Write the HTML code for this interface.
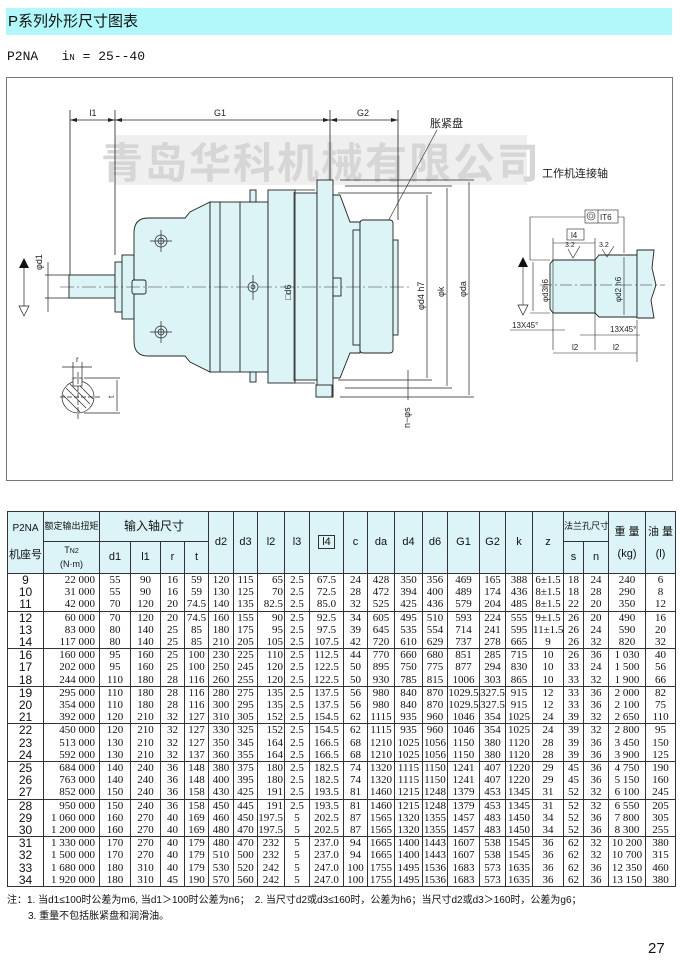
<!DOCTYPE html>
<html><head><meta charset="utf-8">
<style>
*{margin:0;padding:0;box-sizing:border-box}
body{width:680px;height:973px;background:#fff;position:relative;overflow:hidden;font-family:"Liberation Sans","Noto Sans CJK SC",sans-serif;color:#111}
.abs{position:absolute}
#title{left:6px;top:8px;width:666px;height:27px;background:#b2f8fa;font-size:15px;line-height:27px;padding-left:2px}
#sub{left:7px;top:49px;font-family:"Liberation Mono",monospace;font-size:13px;white-space:pre}
#frame{left:6px;top:77px;width:667px;height:404px;border:1px solid #777}
table{position:absolute;left:7px;top:511px;border-collapse:collapse;table-layout:fixed;width:668px}
td{border:1px solid #333;text-align:center;font-family:"Liberation Serif","Noto Serif CJK SC",serif;font-size:11px;line-height:12.2px;padding:0;white-space:nowrap;overflow:hidden}
thead td{background:#dcf4f8;font-family:"Liberation Sans","Noto Sans CJK SC",sans-serif;font-size:11px}
tbody tr{height:37px}
tbody tr.l{height:48px}
td.n{font-family:"Liberation Sans",sans-serif;font-size:12px;line-height:12.2px}
td.r{text-align:right;padding-right:4px}
.note{font-size:10px;left:7px;white-space:nowrap}
</style></head><body>
<div id="title" class="abs">P系列外形尺寸图表</div>
<div id="sub" class="abs">P2NA   i<span style="font-size:9px">N</span> = 25--40</div>
<div id="frame" class="abs"></div>

<svg class="abs" style="left:0;top:0" width="680" height="490" viewBox="0 0 680 490" font-family="Liberation Sans, Noto Sans CJK SC, sans-serif">
<rect x="115" y="135" width="412" height="50" fill="#efefef"/>
<text x="321" y="178" text-anchor="middle" font-size="42" font-weight="bold" fill="#d6d6d6" font-family="Noto Sans CJK SC, sans-serif" letter-spacing="2">青岛华科机械有限公司</text>
<g stroke="#222" stroke-width="0.8" fill="none">
<line x1="70" y1="110" x2="70" y2="275"/>
<line x1="115" y1="110" x2="115" y2="255"/>
<line x1="330" y1="110" x2="330" y2="190"/>
<line x1="398" y1="110" x2="398" y2="220"/>
<line x1="70" y1="120" x2="398" y2="120"/>
</g>
<g fill="#222">
<polygon points="70,120 77,118 77,122"/><polygon points="115,120 108,118 108,122"/>
<polygon points="115,120 122,118 122,122"/><polygon points="330,120 323,118 323,122"/>
<polygon points="330,120 337,118 337,122"/><polygon points="398,120 391,118 391,122"/>
</g>
<g font-size="9" fill="#222" text-anchor="middle">
<text x="93" y="116">l1</text><text x="220" y="116">G1</text><text x="363" y="116">G2</text>
</g>
<text x="430" y="127" font-size="11" fill="#222">胀紧盘</text>
<line x1="437" y1="130" x2="378" y2="240" stroke="#222" stroke-width="0.6"/>
<text x="542" y="177" font-size="11" fill="#222">工作机连接轴</text>

<g stroke="#222" stroke-width="0.9" fill="#dcf4f6">
<rect x="69" y="275" width="46" height="23"/>
<rect x="115" y="262" width="8" height="50"/>
<rect x="122" y="255" width="12" height="64"/>
<path d="M134,233 Q134,218 148,218 L185,218 L190,212 L210,202 L210,372 L190,362 L185,356 L148,356 Q134,356 134,341 Z"/>
<rect x="210" y="202" width="58" height="170"/>
<line x1="220" y1="202" x2="220" y2="372"/><line x1="240" y1="202" x2="240" y2="372"/>
<rect x="268" y="190" width="27" height="193"/>
<rect x="295" y="193" width="22" height="187"/>
<rect x="317" y="180" width="16" height="217"/>
<path d="M333,195 L340,195 L350,222 L360,222 L360,353 L350,353 L340,378 L333,378 Z"/>
<rect x="353" y="230" width="7" height="115"/>
<rect x="360" y="220" width="33" height="133" rx="3"/>
<rect x="393" y="240" width="5" height="95"/>
<rect x="250" y="190" width="6" height="12"/><rect x="250" y="372" width="6" height="10"/>
<rect x="316" y="385" width="16" height="12"/>
<rect x="333" y="278" width="8" height="18"/>
<rect x="132" y="280" width="14" height="14" rx="2"/>
</g>
<g stroke="#222" stroke-width="0.7" fill="none">
<circle cx="161" cy="241" r="6"/><circle cx="161" cy="241" r="3"/>
<circle cx="161" cy="332" r="6"/><circle cx="161" cy="332" r="3"/>
<circle cx="253" cy="287" r="5"/><circle cx="253" cy="287" r="2"/>
<line x1="150" y1="241" x2="172" y2="241"/><line x1="161" y1="230" x2="161" y2="252"/>
<line x1="150" y1="332" x2="172" y2="332"/><line x1="161" y1="321" x2="161" y2="343"/>
<line x1="253" y1="275" x2="253" y2="300"/>
</g>
<line x1="60" y1="287" x2="410" y2="287" stroke="#333" stroke-width="0.5" stroke-dasharray="14,3,2,3"/>
<g stroke="#222" stroke-width="0.7">
<line x1="45" y1="275" x2="69" y2="275"/><line x1="45" y1="298" x2="69" y2="298"/>
<line x1="48" y1="262" x2="48" y2="312"/>
<line x1="24" y1="262" x2="24" y2="312"/>
</g>
<polygon points="24,258 19,268 29,268" fill="#111"/>
<polygon points="24,316 19,306 29,306" fill="#fff" stroke="#222" stroke-width="0.7"/>
<text transform="translate(42,270) rotate(-90)" font-size="9" fill="#222">φd1</text>
<g stroke="#222" stroke-width="0.7">
<line x1="295" y1="190" x2="315" y2="190"/><line x1="295" y1="383" x2="315" y2="383"/>
<line x1="294" y1="192" x2="294" y2="381"/>
<line x1="338" y1="193" x2="432" y2="193"/><line x1="338" y1="380" x2="432" y2="380"/>
<line x1="427" y1="195" x2="427" y2="378"/>
<line x1="345" y1="186" x2="452" y2="186"/><line x1="345" y1="388" x2="452" y2="388"/>
<line x1="447" y1="188" x2="447" y2="386"/>
<line x1="340" y1="180" x2="474" y2="180"/><line x1="340" y1="397" x2="474" y2="397"/>
<line x1="469" y1="182" x2="469" y2="395"/>
<line x1="408" y1="370" x2="408" y2="400"/>
</g>
<text transform="translate(291,300) rotate(-90)" font-size="9" fill="#222">□d6</text>
<text transform="translate(424,310) rotate(-90)" font-size="9" fill="#222">φd4 h7</text>
<text transform="translate(444,297) rotate(-90)" font-size="9" fill="#222">φk</text>
<text transform="translate(466,297) rotate(-90)" font-size="9" fill="#222">φda</text>
<text transform="translate(410,428) rotate(-90)" font-size="9" fill="#222">n−φs</text>
<g stroke="#222" stroke-width="0.7" fill="none">
<circle cx="78" cy="397" r="16" fill="#fff"/>
<path d="M66,388 L86,408 M63,395 L80,412 M70,384 L90,404 M76,382 L93,399" />
<rect x="73" y="378" width="9" height="8" fill="#fff"/>
<line x1="60" y1="397" x2="100" y2="397" stroke-dasharray="5,2"/>
<line x1="78" y1="372" x2="78" y2="420" stroke-dasharray="5,2"/>
<line x1="73" y1="362" x2="73" y2="380"/><line x1="82" y1="362" x2="82" y2="380"/>
<line x1="62" y1="367" x2="92" y2="367"/>
<line x1="84" y1="378" x2="120" y2="378"/><line x1="84" y1="413" x2="120" y2="413"/>
<line x1="117" y1="380" x2="117" y2="411"/>
</g>
<text x="76" y="362" font-size="8" fill="#222">r</text>
<text transform="translate(114,398) rotate(-90)" font-size="8" fill="#222">t</text>

<g stroke="#222" stroke-width="0.9" fill="#dcf4f6">
<path d="M553,260 L595,260 L595,313 L553,313 L550,309 L550,264 Z"/>
<path d="M595,260 L599,255 L637,255 L637,317 L599,317 L595,313 Z"/>
<path d="M637,250 L654,250 L652,268 L656,285 L651,300 L654,318 L637,318 Z"/>
</g>
<g stroke="#222" stroke-width="0.6" fill="none">
<line x1="540" y1="285" x2="665" y2="285" stroke-dasharray="12,3,2,3"/>
<line x1="530" y1="260" x2="550" y2="260"/><line x1="530" y1="313" x2="550" y2="313"/>
<line x1="533" y1="262" x2="533" y2="311"/>
<line x1="624" y1="257" x2="624" y2="315"/>
<polyline points="530,260 530,217 585,217"/>
<rect x="585" y="210" width="33" height="13" fill="#fff"/>
<line x1="598" y1="210" x2="598" y2="223"/>
<circle cx="591" cy="216" r="4"/><circle cx="591" cy="216" r="2"/>
<polyline points="618,217 624,217 624,253"/>
<rect x="567" y="229" width="17" height="11" fill="#fff"/>
<line x1="553" y1="238" x2="553" y2="350"/><line x1="595" y1="238" x2="595" y2="350"/>
<line x1="637" y1="320" x2="637" y2="362"/>
<line x1="553" y1="243" x2="595" y2="243"/>
<polyline points="568,249 573,258 580,246"/>
<polyline points="602,249 607,257 614,246"/>
<line x1="553" y1="353" x2="637" y2="353"/>
<line x1="510" y1="330" x2="565" y2="330"/>
<line x1="580" y1="335" x2="640" y2="335"/>
</g>
<polygon points="523,257 518,267 528,267" fill="#111"/>
<polygon points="523,315 518,305 528,305" fill="#fff" stroke="#222" stroke-width="0.7"/>
<line x1="523" y1="267" x2="523" y2="305" stroke="#222" stroke-width="0.6"/>
<g font-size="8" fill="#222">
<text x="600" y="220">IT6</text>
<text x="571" y="238">l4</text>
<text x="565" y="247" font-size="7">3.2</text>
<text x="599" y="247" font-size="7">3.2</text>
<text transform="translate(548,302) rotate(-90)">φd3h6</text>
<text transform="translate(621,302) rotate(-90)">φd2 h6</text>
<text x="512" y="328">13X45°</text>
<text x="610" y="332">13X45°</text>
<text x="572" y="350">l2</text><text x="613" y="350">l2</text>
</g>
</svg>

<table>
<colgroup>
<col style="width:36px"><col style="width:56px"><col style="width:31px"><col style="width:30px"><col style="width:24px"><col style="width:24px"><col style="width:25px"><col style="width:24px"><col style="width:27px"><col style="width:25px"><col style="width:34px"><col style="width:24px"><col style="width:27px"><col style="width:28px"><col style="width:25px"><col style="width:32px"><col style="width:26px"><col style="width:27px"><col style="width:31px"><col style="width:20px"><col style="width:25px"><col style="width:37px"><col style="width:30px">
</colgroup>
<thead>
<tr style="height:30px"><td rowspan="2" style="font-size:10px;line-height:26px">P2NA<br><span style="font-size:11px">机座号</span></td><td style="font-size:9px">额定输出扭矩</td><td colspan="4" style="font-size:12px">输入轴尺寸</td><td rowspan="2">d2</td><td rowspan="2">d3</td><td rowspan="2">l2</td><td rowspan="2">l3</td><td rowspan="2"><span style="border:1px solid #333;padding:0 3px">l4</span></td><td rowspan="2">c</td><td rowspan="2">da</td><td rowspan="2">d4</td><td rowspan="2">d6</td><td rowspan="2">G1</td><td rowspan="2">G2</td><td rowspan="2">k</td><td rowspan="2">z</td><td colspan="2" style="font-size:9px">法兰孔尺寸</td><td rowspan="2" style="line-height:22px">重 量<br>(kg)</td><td rowspan="2" style="line-height:22px">油 量<br>(l)</td></tr>
<tr style="height:32px"><td style="font-size:9px;line-height:13px">T<span style="font-size:7px">N2</span><br>(N·m)</td><td>d1</td><td>l1</td><td>r</td><td>t</td><td>s</td><td>n</td></tr>
</thead>
<tbody>
<tr><td class="n">9<br>10<br>11</td><td class="r">22 000<br>31 000<br>42 000</td><td>55<br>55<br>70</td><td>90<br>90<br>120</td><td>16<br>16<br>20</td><td>59<br>59<br>74.5</td><td>120<br>130<br>140</td><td>115<br>125<br>135</td><td class="r" style="padding-right:1px">65<br>70<br>82.5</td><td>2.5<br>2.5<br>2.5</td><td>67.5<br>72.5<br>85.0</td><td>24<br>28<br>32</td><td>428<br>472<br>525</td><td>350<br>394<br>425</td><td>356<br>400<br>436</td><td>469<br>489<br>579</td><td>165<br>174<br>204</td><td>388<br>436<br>485</td><td>6±1.5<br>8±1.5<br>8±1.5</td><td>18<br>18<br>22</td><td>24<br>28<br>20</td><td>240<br>290<br>350</td><td>6<br>8<br>12</td></tr>
<tr><td class="n">12<br>13<br>14</td><td class="r">60 000<br>83 000<br>117 000</td><td>70<br>80<br>80</td><td>120<br>140<br>140</td><td>20<br>25<br>25</td><td>74.5<br>85<br>85</td><td>160<br>180<br>210</td><td>155<br>175<br>205</td><td class="r" style="padding-right:1px">90<br>95<br>105</td><td>2.5<br>2.5<br>2.5</td><td>92.5<br>97.5<br>107.5</td><td>34<br>39<br>42</td><td>605<br>645<br>720</td><td>495<br>535<br>610</td><td>510<br>554<br>629</td><td>593<br>714<br>737</td><td>224<br>241<br>278</td><td>555<br>595<br>665</td><td>9±1.5<br>11±1.5<br>9</td><td>26<br>26<br>26</td><td>20<br>24<br>32</td><td>490<br>590<br>820</td><td>16<br>20<br>32</td></tr>
<tr><td class="n">16<br>17<br>18</td><td class="r">160 000<br>202 000<br>244 000</td><td>95<br>95<br>110</td><td>160<br>160<br>180</td><td>25<br>25<br>28</td><td>100<br>100<br>116</td><td>230<br>250<br>260</td><td>225<br>245<br>255</td><td class="r" style="padding-right:1px">110<br>120<br>120</td><td>2.5<br>2.5<br>2.5</td><td>112.5<br>122.5<br>122.5</td><td>44<br>50<br>50</td><td>770<br>895<br>930</td><td>660<br>750<br>785</td><td>680<br>775<br>815</td><td>851<br>877<br>1006</td><td>285<br>294<br>303</td><td>715<br>830<br>865</td><td>10<br>10<br>10</td><td>26<br>33<br>33</td><td>36<br>24<br>32</td><td>1 030<br>1 500<br>1 900</td><td>40<br>56<br>66</td></tr>
<tr><td class="n">19<br>20<br>21</td><td class="r">295 000<br>354 000<br>392 000</td><td>110<br>110<br>120</td><td>180<br>180<br>210</td><td>28<br>28<br>32</td><td>116<br>116<br>127</td><td>280<br>300<br>310</td><td>275<br>295<br>305</td><td class="r" style="padding-right:1px">135<br>135<br>152</td><td>2.5<br>2.5<br>2.5</td><td>137.5<br>137.5<br>154.5</td><td>56<br>56<br>62</td><td>980<br>980<br>1115</td><td>840<br>840<br>935</td><td>870<br>870<br>960</td><td>1029.5<br>1029.5<br>1046</td><td>327.5<br>327.5<br>354</td><td>915<br>915<br>1025</td><td>12<br>12<br>24</td><td>33<br>33<br>39</td><td>36<br>36<br>32</td><td>2 000<br>2 100<br>2 650</td><td>82<br>75<br>110</td></tr>
<tr><td class="n">22<br>23<br>24</td><td class="r">450 000<br>513 000<br>592 000</td><td>120<br>130<br>130</td><td>210<br>210<br>210</td><td>32<br>32<br>32</td><td>127<br>127<br>137</td><td>330<br>350<br>360</td><td>325<br>345<br>355</td><td class="r" style="padding-right:1px">152<br>164<br>164</td><td>2.5<br>2.5<br>2.5</td><td>154.5<br>166.5<br>166.5</td><td>62<br>68<br>68</td><td>1115<br>1210<br>1210</td><td>935<br>1025<br>1025</td><td>960<br>1056<br>1056</td><td>1046<br>1150<br>1150</td><td>354<br>380<br>380</td><td>1025<br>1120<br>1120</td><td>24<br>28<br>28</td><td>39<br>39<br>39</td><td>32<br>36<br>36</td><td>2 800<br>3 450<br>3 900</td><td>95<br>150<br>125</td></tr>
<tr><td class="n">25<br>26<br>27</td><td class="r">684 000<br>763 000<br>852 000</td><td>140<br>140<br>150</td><td>240<br>240<br>240</td><td>36<br>36<br>36</td><td>148<br>148<br>158</td><td>380<br>400<br>430</td><td>375<br>395<br>425</td><td class="r" style="padding-right:1px">180<br>180<br>191</td><td>2.5<br>2.5<br>2.5</td><td>182.5<br>182.5<br>193.5</td><td>74<br>74<br>81</td><td>1320<br>1320<br>1460</td><td>1115<br>1115<br>1215</td><td>1150<br>1150<br>1248</td><td>1241<br>1241<br>1379</td><td>407<br>407<br>453</td><td>1220<br>1220<br>1345</td><td>29<br>29<br>31</td><td>45<br>45<br>52</td><td>36<br>36<br>32</td><td>4 750<br>5 150<br>6 100</td><td>190<br>160<br>245</td></tr>
<tr><td class="n">28<br>29<br>30</td><td class="r">950 000<br>1 060 000<br>1 200 000</td><td>150<br>160<br>160</td><td>240<br>270<br>270</td><td>36<br>40<br>40</td><td>158<br>169<br>169</td><td>450<br>460<br>480</td><td>445<br>450<br>470</td><td class="r" style="padding-right:1px">191<br>197.5<br>197.5</td><td>2.5<br>5<br>5</td><td>193.5<br>202.5<br>202.5</td><td>81<br>87<br>87</td><td>1460<br>1565<br>1565</td><td>1215<br>1320<br>1320</td><td>1248<br>1355<br>1355</td><td>1379<br>1457<br>1457</td><td>453<br>483<br>483</td><td>1345<br>1450<br>1450</td><td>31<br>34<br>34</td><td>52<br>52<br>52</td><td>32<br>36<br>36</td><td>6 550<br>7 800<br>8 300</td><td>205<br>305<br>255</td></tr>
<tr class="l"><td class="n">31<br>32<br>33<br>34</td><td class="r">1 330 000<br>1 500 000<br>1 680 000<br>1 920 000</td><td>170<br>170<br>180<br>180</td><td>270<br>270<br>310<br>310</td><td>40<br>40<br>40<br>45</td><td>179<br>179<br>179<br>190</td><td>480<br>510<br>530<br>570</td><td>470<br>500<br>520<br>560</td><td>232<br>232<br>242<br>242</td><td>5<br>5<br>5<br>5</td><td>237.0<br>237.0<br>247.0<br>247.0</td><td>94<br>94<br>100<br>100</td><td>1665<br>1665<br>1755<br>1755</td><td>1400<br>1400<br>1495<br>1495</td><td>1443<br>1443<br>1536<br>1536</td><td>1607<br>1607<br>1683<br>1683</td><td>538<br>538<br>573<br>573</td><td>1545<br>1545<br>1635<br>1635</td><td>36<br>36<br>36<br>36</td><td>62<br>62<br>62<br>62</td><td>32<br>32<br>36<br>36</td><td>10 200<br>10 700<br>12 350<br>13 150</td><td>380<br>315<br>460<br>380</td></tr>
</tbody>
</table>

<div class="abs note" style="top:891px">注：1. 当d1≤100时公差为m6, 当d1＞100时公差为n6；　2. 当尺寸d2或d3≤160时，公差为h6；当尺寸d2或d3＞160时，公差为g6；</div>
<div class="abs note" style="top:907px;left:28px">3. 重量不包括胀紧盘和润滑油。</div>
<div class="abs" style="left:648px;top:940px;font-size:15px">27</div>
</body></html>
